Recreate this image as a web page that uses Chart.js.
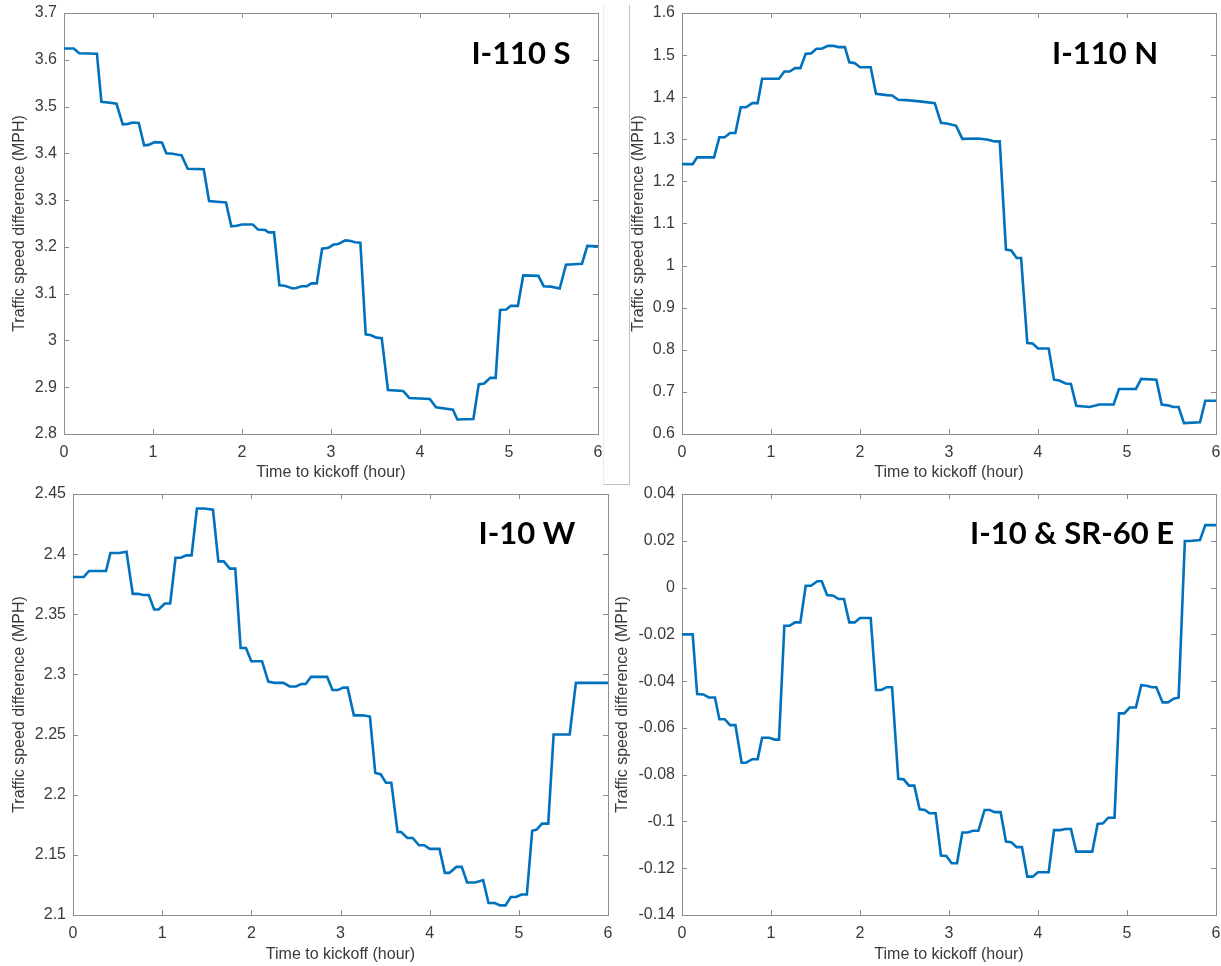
<!DOCTYPE html>
<html>
<head>
<meta charset="utf-8">
<script src="https://cdn.jsdelivr.net/npm/chart.js@4.4.1/dist/chart.umd.min.js"></script>
<style>
    body { margin: 0; background: #fff; }
    #page { position: relative; width: 1221px; height: 966px; overflow: hidden; background: #fff; }
    #page canvas { position: absolute; }
    .frame { position: absolute; left: 603px; top: 5px; width: 25px; height: 479px;
             border: 1px solid #c4c4c4; border-top: none; border-left-color: #ececec; }
</style>
</head>
<body>
<div id="page">
    <div class="frame"></div>
    <canvas id="c-110s"></canvas>
    <canvas id="c-110n"></canvas>
    <canvas id="c-10w"></canvas>
    <canvas id="c-10e"></canvas>
</div>
<script>
// ---- data (hours before kickoff / speed difference in MPH) ----
const xTicks = [0, 1, 2, 3, 4, 5, 6];

const i110sHours = [
    0, 0.11, 0.17, 0.37, 0.42, 0.52, 0.59, 0.66, 0.72, 0.77,
    0.84, 0.90, 0.95, 1.02, 1.10, 1.15, 1.22, 1.28, 1.32, 1.39,
    1.57, 1.63, 1.75, 1.82, 1.88, 1.94, 2.00, 2.12, 2.18, 2.26,
    2.30, 2.36, 2.42, 2.48, 2.57, 2.61, 2.67, 2.73, 2.78, 2.84,
    2.90, 2.97, 3.03, 3.08, 3.16, 3.21, 3.27, 3.33, 3.39, 3.45,
    3.51, 3.57, 3.64, 3.81, 3.88, 4.11, 4.18, 4.37, 4.42, 4.60,
    4.66, 4.72, 4.79, 4.85, 4.90, 4.97, 5.02, 5.10, 5.16, 5.33,
    5.39, 5.47, 5.57, 5.64, 5.82, 5.88, 6.00
];
const i110sSpeed = [
    3.624, 3.624, 3.614, 3.613, 3.510, 3.508, 3.506, 3.462, 3.463, 3.466,
    3.465, 3.417, 3.418, 3.424, 3.423, 3.400, 3.399, 3.397, 3.396, 3.367,
    3.366, 3.298, 3.296, 3.295, 3.244, 3.245, 3.248, 3.248, 3.237, 3.236,
    3.231, 3.231, 3.118, 3.117, 3.111, 3.112, 3.116, 3.116, 3.122, 3.122,
    3.196, 3.198, 3.205, 3.206, 3.214, 3.213, 3.210, 3.209, 3.013, 3.011,
    3.006, 3.005, 2.894, 2.892, 2.877, 2.875, 2.857, 2.852, 2.831, 2.832,
    2.906, 2.908, 2.920, 2.920, 3.065, 3.066, 3.074, 3.074, 3.139, 3.138,
    3.116, 3.115, 3.111, 3.162, 3.164, 3.202, 3.201
];

const i110nHours = [
    0, 0.12, 0.17, 0.36, 0.42, 0.48, 0.54, 0.60, 0.66, 0.72,
    0.79, 0.85, 0.90, 1.09, 1.15, 1.21, 1.27, 1.33, 1.39, 1.45,
    1.51, 1.57, 1.64, 1.70, 1.76, 1.83, 1.88, 1.94, 2.00, 2.12,
    2.18, 2.30, 2.36, 2.43, 2.52, 2.67, 2.84, 2.91, 2.99, 3.08,
    3.15, 3.33, 3.44, 3.51, 3.57, 3.64, 3.70, 3.76, 3.81, 3.88,
    3.94, 4.00, 4.12, 4.18, 4.24, 4.31, 4.37, 4.43, 4.58, 4.69,
    4.85, 4.91, 5.10, 5.16, 5.33, 5.39, 5.46, 5.52, 5.58, 5.64,
    5.82, 5.88, 6.00
];
const i110nSpeed = [
    1.241, 1.241, 1.257, 1.257, 1.305, 1.305, 1.315, 1.315, 1.376, 1.376,
    1.386, 1.386, 1.444, 1.444, 1.461, 1.461, 1.469, 1.469, 1.503, 1.504,
    1.515, 1.515, 1.522, 1.522, 1.519, 1.519, 1.483, 1.481, 1.471, 1.471,
    1.408, 1.405, 1.404, 1.394, 1.393, 1.390, 1.386, 1.339, 1.337, 1.332,
    1.301, 1.302, 1.299, 1.295, 1.295, 1.038, 1.036, 1.018, 1.018, 0.816,
    0.815, 0.803, 0.803, 0.729, 0.727, 0.720, 0.719, 0.667, 0.664, 0.670,
    0.670, 0.707, 0.707, 0.731, 0.729, 0.670, 0.668, 0.664, 0.664, 0.626,
    0.628, 0.679, 0.679
];

const i10wHours = [
    0, 0.12, 0.18, 0.37, 0.42, 0.52, 0.60, 0.67, 0.73, 0.79,
    0.85, 0.91, 0.96, 1.03, 1.09, 1.15, 1.21, 1.27, 1.33, 1.39,
    1.47, 1.57, 1.63, 1.69, 1.76, 1.82, 1.88, 1.94, 2.00, 2.12,
    2.19, 2.26, 2.36, 2.43, 2.50, 2.56, 2.61, 2.67, 2.85, 2.91,
    2.97, 3.03, 3.08, 3.15, 3.25, 3.33, 3.39, 3.45, 3.51, 3.57,
    3.64, 3.68, 3.75, 3.81, 3.88, 3.94, 4.00, 4.11, 4.17, 4.22,
    4.30, 4.36, 4.42, 4.51, 4.60, 4.66, 4.73, 4.79, 4.85, 4.91,
    4.97, 5.03, 5.09, 5.15, 5.20, 5.26, 5.33, 5.39, 5.57, 5.64,
    5.79, 5.87, 6.00
];
const i10wSpeed = [
    2.381, 2.381, 2.386, 2.386, 2.401, 2.401, 2.402, 2.367, 2.367, 2.366,
    2.366, 2.354, 2.354, 2.359, 2.359, 2.397, 2.397, 2.399, 2.399, 2.438,
    2.438, 2.437, 2.394, 2.394, 2.388, 2.388, 2.322, 2.322, 2.311, 2.311,
    2.294, 2.293, 2.293, 2.290, 2.290, 2.292, 2.292, 2.298, 2.298, 2.287,
    2.287, 2.289, 2.289, 2.266, 2.266, 2.265, 2.218, 2.217, 2.210, 2.210,
    2.169, 2.169, 2.164, 2.164, 2.158, 2.158, 2.155, 2.155, 2.135, 2.135,
    2.140, 2.140, 2.127, 2.127, 2.129, 2.110, 2.110, 2.108, 2.108, 2.115,
    2.115, 2.117, 2.117, 2.170, 2.171, 2.176, 2.176, 2.250, 2.250, 2.293,
    2.293, 2.293, 2.293
];

const i10eHours = [
    0, 0.12, 0.17, 0.24, 0.30, 0.37, 0.42, 0.48, 0.54, 0.60,
    0.67, 0.72, 0.79, 0.85, 0.90, 0.98, 1.04, 1.09, 1.15, 1.21,
    1.27, 1.33, 1.39, 1.45, 1.52, 1.57, 1.63, 1.70, 1.76, 1.82,
    1.88, 1.94, 2.00, 2.12, 2.18, 2.24, 2.30, 2.36, 2.43, 2.49,
    2.55, 2.61, 2.67, 2.73, 2.78, 2.85, 2.91, 2.97, 3.03, 3.09,
    3.15, 3.21, 3.27, 3.33, 3.40, 3.46, 3.51, 3.58, 3.64, 3.70,
    3.76, 3.82, 3.88, 3.94, 4.00, 4.12, 4.18, 4.25, 4.31, 4.37,
    4.43, 4.61, 4.67, 4.73, 4.79, 4.86, 4.91, 4.97, 5.03, 5.10,
    5.16, 5.22, 5.28, 5.33, 5.40, 5.46, 5.53, 5.58, 5.65, 5.71,
    5.82, 5.88, 6.00
];
const i10eSpeed = [
    -0.0200, -0.0200, -0.0455, -0.0457, -0.0470, -0.0470, -0.0563, -0.0563, -0.0588, -0.0588,
    -0.0749, -0.0749, -0.0734, -0.0734, -0.0642, -0.0642, -0.0650, -0.0650, -0.0163, -0.0163,
    -0.0149, -0.0149, 0.0008, 0.0008, 0.0027, 0.0027, -0.0032, -0.0035, -0.0049, -0.0049,
    -0.0149, -0.0149, -0.0130, -0.0130, -0.0438, -0.0438, -0.0426, -0.0426, -0.0818, -0.0820,
    -0.0847, -0.0847, -0.0948, -0.0951, -0.0965, -0.0965, -0.1146, -0.1148, -0.1179, -0.1179,
    -0.1047, -0.1047, -0.1040, -0.1040, -0.0951, -0.0951, -0.0960, -0.0960, -0.1086, -0.1089,
    -0.1110, -0.1110, -0.1236, -0.1236, -0.1217, -0.1217, -0.1037, -0.1037, -0.1032, -0.1032,
    -0.1129, -0.1129, -0.1011, -0.1008, -0.0984, -0.0984, -0.0538, -0.0538, -0.0513, -0.0513,
    -0.0417, -0.0420, -0.0426, -0.0426, -0.0491, -0.0491, -0.0474, -0.0471, 0.0199, 0.0199,
    0.0203, 0.0267, 0.0267
];

// ---- styling ----
const LINE_BLUE = '#0072bd';
const AXIS_GREY = '#8e8e8e';
const TEXT_GREY = '#3a3a3a';
const LABEL_FONT = { family: '"Liberation Sans", Arial, sans-serif', size: 16, lineHeight: 1.2 };
const HALF_LINE = 16 * 1.2 / 2;

// MATLAB style box with inward ticks on all four sides
const matlabBox = {
    id: 'matlabBox',
    beforeDatasetsDraw(chart) {
        const { ctx, chartArea: a, scales: { x, y } } = chart;
        const len = 5;
        ctx.save();
        ctx.strokeStyle = AXIS_GREY;
        ctx.lineWidth = 1;
        ctx.beginPath();
        x.ticks.forEach(t => {
            const px = Math.round(x.getPixelForValue(t.value)) + 0.5;
            ctx.moveTo(px, a.bottom); ctx.lineTo(px, a.bottom - len);
            ctx.moveTo(px, a.top); ctx.lineTo(px, a.top + len);
        });
        y.ticks.forEach(t => {
            const py = Math.round(y.getPixelForValue(t.value)) + 0.5;
            ctx.moveTo(a.left, py); ctx.lineTo(a.left + len, py);
            ctx.moveTo(a.right, py); ctx.lineTo(a.right - len, py);
        });
        ctx.stroke();
        ctx.strokeRect(Math.round(a.left) + 0.5, Math.round(a.top) + 0.5,
            Math.round(a.right - a.left), Math.round(a.bottom - a.top));
        ctx.restore();
    }
};

// bold road name inside the plot
const roadTag = {
    id: 'roadTag',
    afterDatasetsDraw(chart, args, opts) {
        const { ctx } = chart;
        ctx.save();
        ctx.font = 'bold 31px Lato, "Open Sans", sans-serif';
        ctx.fillStyle = '#000';
        ctx.textAlign = 'center';
        ctx.textBaseline = 'alphabetic';
        ctx.fillText(opts.text, opts.x, opts.y);
        ctx.restore();
    }
};

function fmtTick(v) {
    return String(parseFloat(v.toFixed(3)));
}

// the plot box is placed by hand, so drop the extra room chart.js keeps for edge labels
function noEdgePadding(s) {
    s.paddingLeft = 0;
    s.paddingRight = 0;
    s.paddingTop = 0;
    s.paddingBottom = 0;
}

function drawPanel(id, hours, speed, yMin, yMax, yStep, box, plot, yTitleX, xTitleY, tag) {
    const canvas = document.getElementById(id);
    canvas.width = box.width;
    canvas.height = box.height;
    canvas.style.left = box.left + 'px';
    canvas.style.top = box.top + 'px';

    new Chart(canvas, {
        type: 'line',
        data: {
            datasets: [{
                data: hours.map((h, i) => ({ x: h, y: speed[i] })),
                borderColor: LINE_BLUE,
                borderWidth: 2.6,
                pointRadius: 0,
                tension: 0,
                fill: false
            }]
        },
        options: {
            responsive: false,
            animation: false,
            layout: {
                padding: {
                    left: 0,
                    top: plot.top - box.top,
                    right: box.left + box.width - plot.right,
                    bottom: 0
                }
            },
            plugins: {
                legend: { display: false },
                tooltip: { enabled: false },
                roadTag: { text: tag.text, x: tag.x - box.left, y: tag.y - box.top }
            },
            scales: {
                x: {
                    type: 'linear',
                    min: xTicks[0],
                    max: xTicks[xTicks.length - 1],
                    afterBuildTicks: s => { s.ticks = xTicks.map(v => ({ value: v })); },
                    ticks: { color: TEXT_GREY, font: LABEL_FONT, padding: 9, autoSkip: false, maxRotation: 0 },
                    grid: { display: false, drawTicks: false },
                    border: { display: false },
                    title: {
                        display: true,
                        text: 'Time to kickoff (hour)',
                        color: TEXT_GREY,
                        font: LABEL_FONT,
                        padding: { top: 0, bottom: box.top + box.height - xTitleY - HALF_LINE }
                    },
                    afterFit: s => {
                        s.height = box.top + box.height - plot.bottom;
                        noEdgePadding(s);
                    }
                },
                y: {
                    min: yMin,
                    max: yMax,
                    ticks: { stepSize: yStep, color: TEXT_GREY, font: LABEL_FONT, padding: 7, autoSkip: false, callback: fmtTick },
                    grid: { display: false, drawTicks: false },
                    border: { display: false },
                    title: {
                        display: true,
                        text: 'Traffic speed difference (MPH)',
                        color: TEXT_GREY,
                        font: LABEL_FONT,
                        padding: { top: yTitleX - box.left - HALF_LINE, bottom: 0 }
                    },
                    afterFit: s => {
                        s.width = plot.left - box.left;
                        noEdgePadding(s);
                    }
                }
            }
        },
        plugins: [matlabBox, roadTag]
    });
}

drawPanel('c-110s', i110sHours, i110sSpeed, 2.8, 3.7, 0.1,
    { left: 0, top: 0, width: 610, height: 490 },
    { left: 64, top: 13, right: 598, bottom: 434 },
    20, 473, { text: 'I-110 S', x: 521, y: 64 });

drawPanel('c-110n', i110nHours, i110nSpeed, 0.6, 1.6, 0.1,
    { left: 610, top: 0, width: 611, height: 490 },
    { left: 682, top: 13, right: 1216, bottom: 434 },
    639, 473, { text: 'I-110 N', x: 1105, y: 64 });

drawPanel('c-10w', i10wHours, i10wSpeed, 2.1, 2.45, 0.05,
    { left: 0, top: 478, width: 620, height: 488 },
    { left: 73, top: 494, right: 608, bottom: 915 },
    20, 955, { text: 'I-10 W', x: 527, y: 544 });

drawPanel('c-10e', i10eHours, i10eSpeed, -0.14, 0.04, 0.02,
    { left: 610, top: 478, width: 611, height: 488 },
    { left: 682, top: 494, right: 1216, bottom: 915 },
    623, 955, { text: 'I-10 & SR-60 E', x: 1072, y: 544 });
</script>
</body>
</html>
